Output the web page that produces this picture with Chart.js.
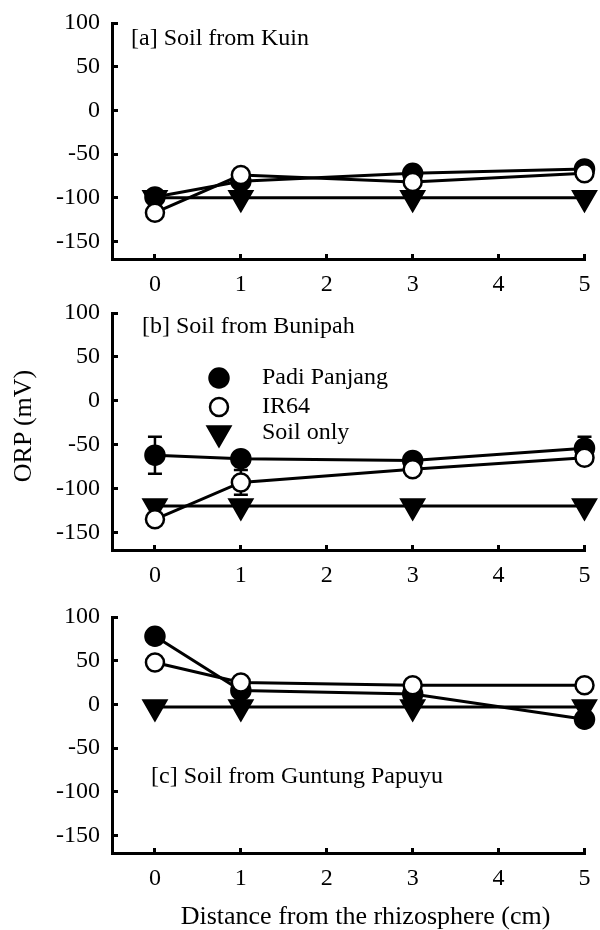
<!DOCTYPE html>
<html>
<head>
<meta charset="utf-8">
<script src="https://cdn.jsdelivr.net/npm/chart.js@4/dist/chart.umd.min.js"></script>
<style>
  html, body { margin: 0; padding: 0; background: #fff; }
  body { width: 600px; height: 930px; position: relative; overflow: hidden; }
  canvas { position: absolute; left: 0; }
  .ttl { position: absolute; font-family: "Liberation Serif", "Times New Roman", serif; font-size: 26px;
    line-height: 30px; height: 30px; color: #000; text-align: center; white-space: nowrap; }
  #xtitle { left: 0; width: 731px; top: 901px; }
  #ytitle { left: -77px; width: 200px; top: 411px; transform: rotate(-90deg); transform-origin: 50% 50%; }
</style>
</head>
<body>
<canvas id="cA" width="600" height="300" style="top:0px"></canvas>
<canvas id="cB" width="600" height="301" style="top:290px"></canvas>
<canvas id="cC" width="600" height="300" style="top:594px"></canvas>
<div class="ttl" id="ytitle">ORP (mV)</div>
<div class="ttl" id="xtitle">Distance from the rhizosphere (cm)</div>
<script>
// ---- data ----
const distances = [0, 1, 3, 5];
const xTicks = [0, 1, 2, 3, 4, 5];
const yTicks = [-150, -100, -50, 0, 50, 100];
const seriesNames = ["Padi Panjang", "IR64", "Soil only"];
const panelTitles = ["[a] Soil from Kuin", "[b] Soil from Bunipah", "[c] Soil from Guntung Papuyu"];

const kuinPadi = [-99, -81, -72, -67];
const kuinIR64 = [-117, -74, -82, -72];
const kuinSoil = [-100, -100, -100, -100];

const bunipahPadi = [-62, -66, -68, -54];
const bunipahPadiErr = [21, 4, 3, 13];
const bunipahIR64 = [-135, -93, -78, -65];
const bunipahIR64Err = [3, 14, 3, 3];
const bunipahSoil = [-120, -120, -120, -120];

const guntungPadi = [78, 16, 12, -17];
const guntungIR64 = [48, 25, 22, 22];
const guntungSoil = [-3, -3, -3, -3];

// ---- styles ----
const FONT = "'Liberation Serif', 'Times New Roman', serif";
const FS = 24;
const styles = [
  { pointStyle: 'circle', radius: 9.5, bg: '#000', rotation: 0, order: 1 },
  { pointStyle: 'circle', radius: 9, bg: '#fff', rotation: 0, order: 0 },
  { pointStyle: 'triangle', radius: 13, bg: '#000', rotation: 180, order: 2 }
];

function makeDatasets(arrs, errs) {
  return arrs.map((vals, i) => ({
    label: seriesNames[i],
    data: vals.map((v, j) => ({ x: distances[j], y: v })),
    errors: errs ? errs[i] : null,
    borderColor: '#000',
    borderWidth: 3,
    backgroundColor: styles[i].bg,
    pointStyle: styles[i].pointStyle,
    pointRadius: styles[i].radius,
    pointRotation: styles[i].rotation,
    pointBackgroundColor: styles[i].bg,
    pointBorderColor: '#000',
    pointBorderWidth: 2.5,
    pointHoverRadius: styles[i].radius,
    order: styles[i].order,
    tension: 0,
    clip: false
  }));
}

const errorBarPlugin = {
  id: 'errorBars',
  beforeDatasetsDraw(chart) {
    const ctx = chart.ctx;
    const xs = chart.scales.x, ys = chart.scales.y;
    ctx.save();
    ctx.strokeStyle = '#000';
    ctx.lineWidth = 2.5;
    chart.data.datasets.forEach(ds => {
      if (!ds.errors) return;
      ds.data.forEach((p, j) => {
        const e = ds.errors[j];
        if (!e) return;
        const px = xs.getPixelForValue(p.x);
        const y1 = ys.getPixelForValue(p.y + e);
        const y2 = ys.getPixelForValue(p.y - e);
        ctx.beginPath();
        ctx.moveTo(px, y1); ctx.lineTo(px, y2);
        ctx.moveTo(px - 7, y1); ctx.lineTo(px + 7, y1);
        ctx.moveTo(px - 7, y2); ctx.lineTo(px + 7, y2);
        ctx.stroke();
      });
    });
    ctx.restore();
  }
};

const panelLabelPlugin = {
  id: 'panelLabel',
  afterDraw(chart, args, opts) {
    const ctx = chart.ctx;
    const a = chart.chartArea;
    ctx.save();
    ctx.fillStyle = '#000';
    ctx.font = FS + 'px ' + FONT;
    ctx.textBaseline = 'alphabetic';
    ctx.textAlign = 'left';
    ctx.fillText(opts.text, a.left + opts.dx, a.top + opts.dy);
    if (opts.legend) {
      const lg = opts.legend;
      chart.data.datasets.forEach((ds, i) => {
        const cx = a.left + lg.dx;
        const cy = a.top + lg.dy + i * lg.step[i];
        ctx.save();
        ctx.fillStyle = ds.pointBackgroundColor;
        ctx.strokeStyle = '#000';
        ctx.lineWidth = ds.pointBorderWidth;
        Chart.helpers.drawPoint(ctx, {
          pointStyle: ds.pointStyle, radius: ds.pointRadius,
          rotation: ds.pointRotation, borderWidth: ds.pointBorderWidth
        }, cx, cy);
        ctx.restore();
        ctx.fillStyle = '#000';
        ctx.textBaseline = 'middle';
        ctx.font = FS + 'px ' + FONT;
        ctx.fillText(ds.label, cx + lg.tdx, cy);
      });
    }
    ctx.restore();
  }
};

function makeChart(id, datasets, opts) {
  return new Chart(document.getElementById(id), {
    type: 'line',
    data: { datasets },
    plugins: [errorBarPlugin, panelLabelPlugin],
    options: {
      responsive: false,
      animation: false,
      layout: { padding: { top: 23, right: 12, left: 0, bottom: 0 } },
      plugins: {
        legend: { display: false },
        tooltip: { enabled: false },
        panelLabel: opts.panel
      },
      scales: {
        x: {
          type: 'linear',
          min: -0.5, max: 5,
          afterBuildTicks: s => { s.ticks = xTicks.map(v => ({ value: v })); },
          afterFit: s => { s.height = opts.xh; s.paddingLeft = 0; s.paddingRight = 0; },
          grid: { display: true, drawOnChartArea: false, drawTicks: true, tickLength: -5, lineWidth: 3, color: '#000' },
          border: { display: true, width: 3, color: '#000' },
          ticks: { color: '#000', font: { family: FONT, size: FS }, padding: 16, maxRotation: 0, autoSkip: false }
        },
        y: {
          type: 'linear',
          min: -170, max: 100,
          afterBuildTicks: s => { s.ticks = yTicks.map(v => ({ value: v })); },
          afterFit: s => { s.width = 112; s.paddingTop = 0; s.paddingBottom = 0; },
          grid: { display: true, drawOnChartArea: false, drawTicks: true, tickLength: -6, lineWidth: 3, color: '#000' },
          border: { display: true, width: 3, color: '#000' },
          ticks: { color: '#000', font: { family: FONT, size: FS }, padding: 18 }
        }
      }
    }
  });
}

makeChart('cA', makeDatasets([kuinPadi, kuinIR64, kuinSoil]), {
  xh: 41, panel: { text: panelTitles[0], dx: 19, dy: 22 }
});
makeChart('cB', makeDatasets([bunipahPadi, bunipahIR64, bunipahSoil], [bunipahPadiErr, bunipahIR64Err, null]), {
  xh: 41,
  panel: { text: panelTitles[1], dx: 30, dy: 20, legend: { dx: 107, dy: 65, step: [0, 29, 27.5], tdx: 43 } }
});
makeChart('cC', makeDatasets([guntungPadi, guntungIR64, guntungSoil]), {
  xh: 41, panel: { text: panelTitles[2], dx: 39, dy: 166 }
});
</script>
</body>
</html>
